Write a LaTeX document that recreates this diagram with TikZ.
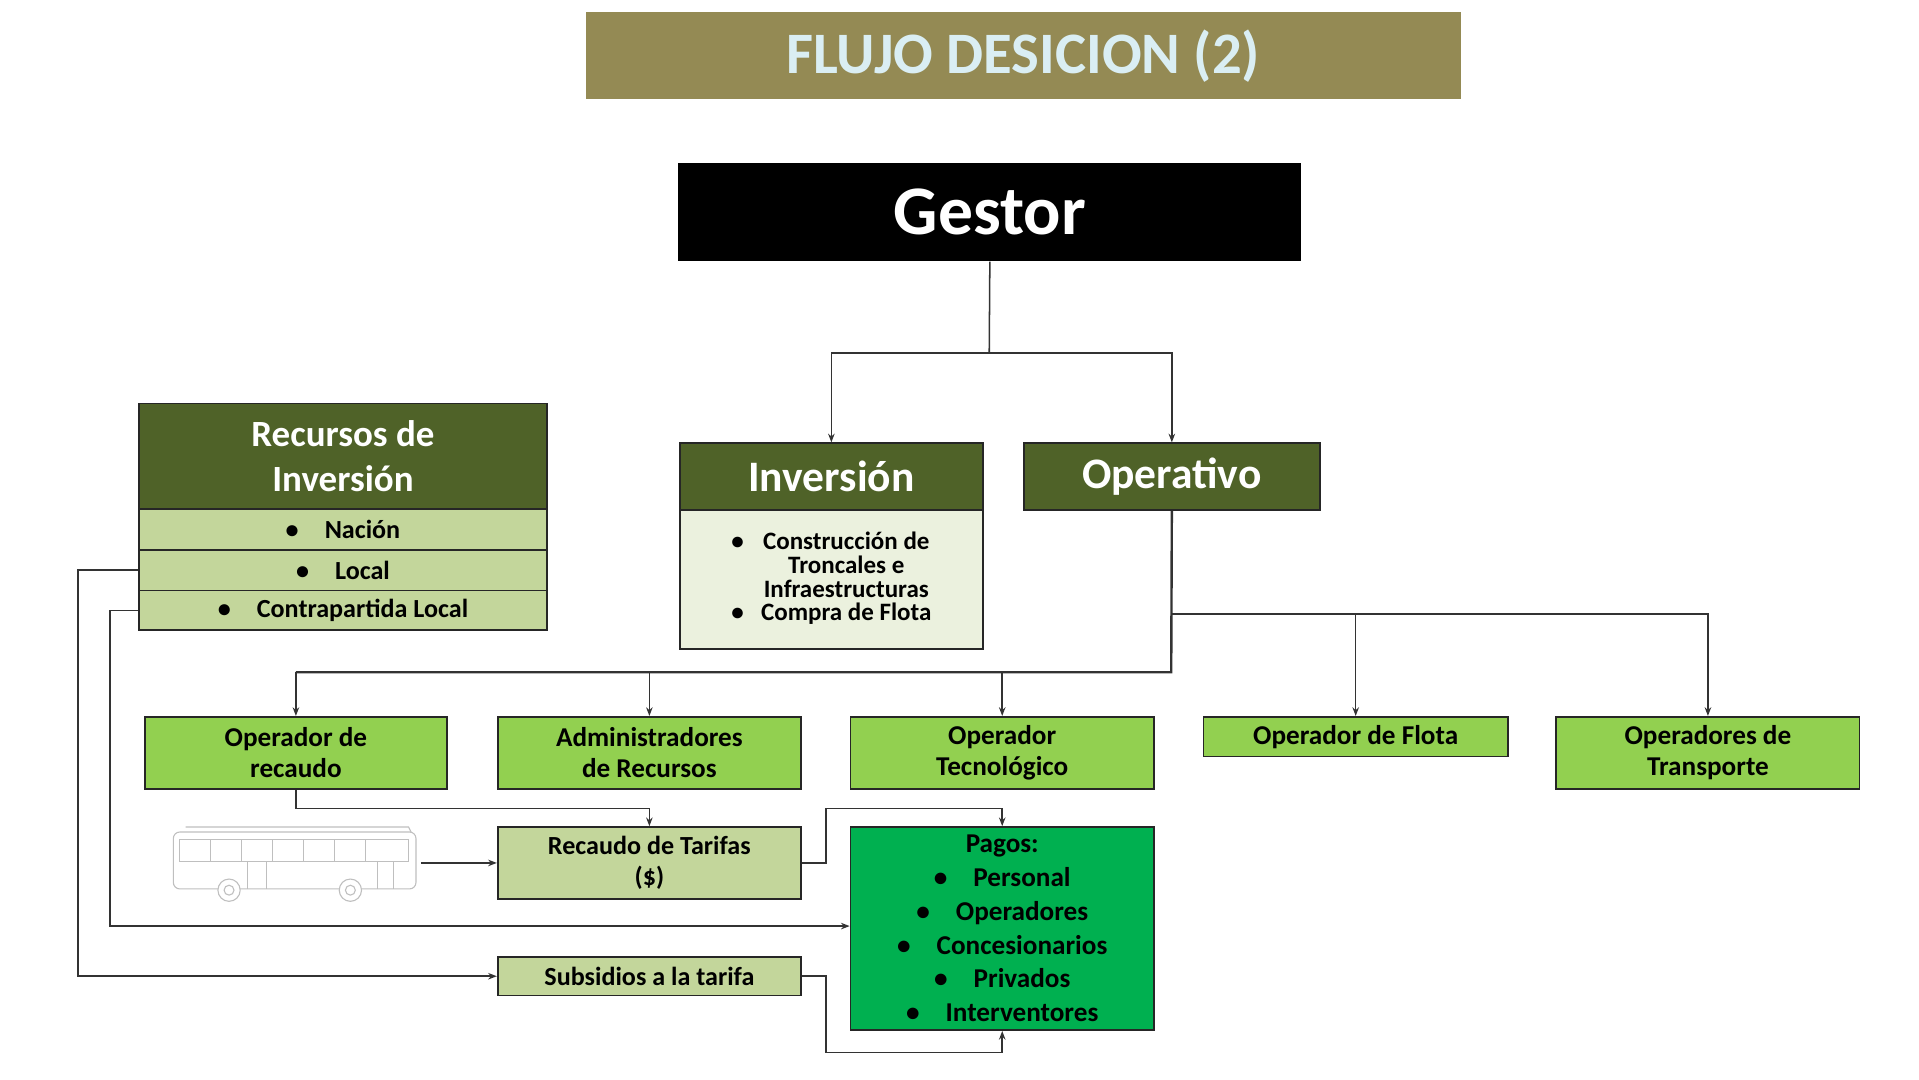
\documentclass[tikz,border=0pt]{standalone}
\usepackage{fontspec}
\setmainfont{Carlito}
\usetikzlibrary{arrows.meta}
\definecolor{olive}{HTML}{948A54}
\definecolor{dkg}{HTML}{4F6228}
\definecolor{ltg}{HTML}{C3D69B}
\definecolor{pale}{HTML}{EBF1DE}
\definecolor{lime}{HTML}{92D050}
\definecolor{grn}{HTML}{00B050}
\definecolor{ttl}{HTML}{DAEEF3}
\begin{document}
\begin{tikzpicture}[x=0.02cm,y=-0.02cm,
  box/.style={draw=black!85,line width=0.8pt,inner sep=1pt,align=center,font=\bfseries},
  hdr/.style={box,fill=dkg,text=white},
  row/.style={box,fill=ltg,font=\bfseries\fontsize{12}{14}\selectfont},
  op/.style={box,fill=lime,font=\bfseries\fontsize{12.5}{14.5}\selectfont},
  ln/.style={draw=black!80,line width=0.7pt},
  ar/.style={ln,-{Stealth[length=4pt,width=3pt]}}]
\useasboundingbox (0,0) rectangle (1550,872);
\node[fill=olive,minimum width=707*0.02cm,minimum height=70*0.02cm,text=ttl,font=\bfseries\fontsize{27}{30}\selectfont] (title) at (826.5,45) {FLUJO DESICION (2)};
\node[fill=black,minimum width=503*0.02cm,minimum height=79*0.02cm,text=white,font=\bfseries\fontsize{32}{36}\selectfont] (gestor) at (799.5,171.5) {Gestor};
\node[hdr,minimum width=245*0.02cm,minimum height=54*0.02cm,font=\bfseries\fontsize{20}{22}\selectfont] (inv) at (671.5,385) {Inversión};
\node[box,fill=pale,minimum width=245*0.02cm,minimum height=112*0.02cm,font=\bfseries\fontsize{11.5}{13}\selectfont] (invb) at (671.5,468)
 {\begin{tabular}{@{}l@{\hspace{8pt}}c@{}}•&Construcción de\\[-2pt] &Troncales e\\[-2pt] &Infraestructuras\\[-2pt] •&Compra de Flota\end{tabular}};
\node[hdr,minimum width=239*0.02cm,minimum height=54*0.02cm,font=\bfseries\fontsize{20}{22}\selectfont] (oper) at (946.5,385) {Operativo};
\node[hdr,minimum width=330*0.02cm,minimum height=85*0.02cm,font=\bfseries\fontsize{17}{21}\selectfont] (rec) at (277,368.5) {Recursos de\\Inversión};
\node[row,minimum width=330*0.02cm,minimum height=33*0.02cm] (r1) at (277,427.5) {•\hspace{12pt}Nación};
\node[row,minimum width=330*0.02cm,minimum height=33*0.02cm] (r2) at (277,460.5) {•\hspace{12pt}Local};
\node[row,minimum width=330*0.02cm,minimum height=32*0.02cm] (r3) at (277,493) {•\hspace{12pt}Contrapartida Local};
\node[op,minimum width=244*0.02cm,minimum height=58*0.02cm] (o1) at (239,608) {Operador de\\recaudo};
\node[op,minimum width=245*0.02cm,minimum height=58*0.02cm] (o2) at (524.5,608) {Administradores\\de Recursos};
\node[op,minimum width=245*0.02cm,minimum height=58*0.02cm] (o3) at (809.5,608) {Operador\\Tecnológico};
\node[op,minimum width=246*0.02cm,minimum height=32*0.02cm] (o4) at (1095,595) {Operador de Flota};
\node[op,minimum width=245*0.02cm,minimum height=58*0.02cm] (o5) at (1379.5,608) {Operadores de\\Transporte};
\node[row,minimum width=245*0.02cm,minimum height=58*0.02cm] (rt) at (524.5,697) {Recaudo de Tarifas\\(\$)};
\node[row,minimum width=245*0.02cm,minimum height=31*0.02cm] (sub) at (524.5,788.5) {Subsidios a la tarifa};
\node[box,fill=grn,minimum width=245*0.02cm,minimum height=164*0.02cm,font=\bfseries\fontsize{12.5}{15.5}\selectfont] (pagos) at (809.5,750)
 {Pagos:\\•\hspace{12pt}Personal\\•\hspace{12pt}Operadores\\•\hspace{12pt}Concesionarios\\•\hspace{12pt}Privados\\•\hspace{12pt}Interventores};
% bus
\begin{scope}[draw=black!25,line width=0.5pt]
\draw[rounded corners=3pt] (140,672) rectangle (336,718);
\draw (150,668) -- (330,668) -- (332,672);
\draw (145,678) rectangle (330,696);
\foreach \x in {170,195,220,245,270,295} \draw (\x,678) -- (\x,696);
\draw (200,696) -- (200,718) (215,696) -- (215,718) (305,696)--(305,718) (318,696)--(318,718);
\draw[fill=white] (185,719) circle (9) (185,719) circle (4) (283,719) circle (9) (283,719) circle (4);
\end{scope}
\coordinate (bus) at (340,697);
% connectors
\draw[ln] (gestor.south) -- (799,285);
\draw[ar] (799,285) -| (inv.north);
\draw[ar] (799,285) -| (oper.north);
\draw[ln,line width=1.1pt] (oper.south) -- (946,543) -- (239,543);
\foreach \n in {o1,o2,o3} \draw[ar] (\n.north |- 0,543) -- (\n.north);
\draw[ln] (946,496) -- (1380,496);
\foreach \n in {o4,o5} \draw[ar] (\n.north |- 0,496) -- (\n.north);
\draw[ar] (o1.south) -- (239,653) -| (rt.north);
\draw[ar] (bus) -- (rt.west);
\draw[ar] (rt.east) -- (667,697) -- (667,653) -| (pagos.north);
\draw[ar] (r2.west) -- (63,460.5) |- (sub.west);
\draw[ar] (r3.west) -- (89,493) |- (pagos.west |- 0,748);
\draw[ar] (sub.east) -- (667,788.5) -- (667,850) -| (pagos.south);
\end{tikzpicture}
\end{document}
